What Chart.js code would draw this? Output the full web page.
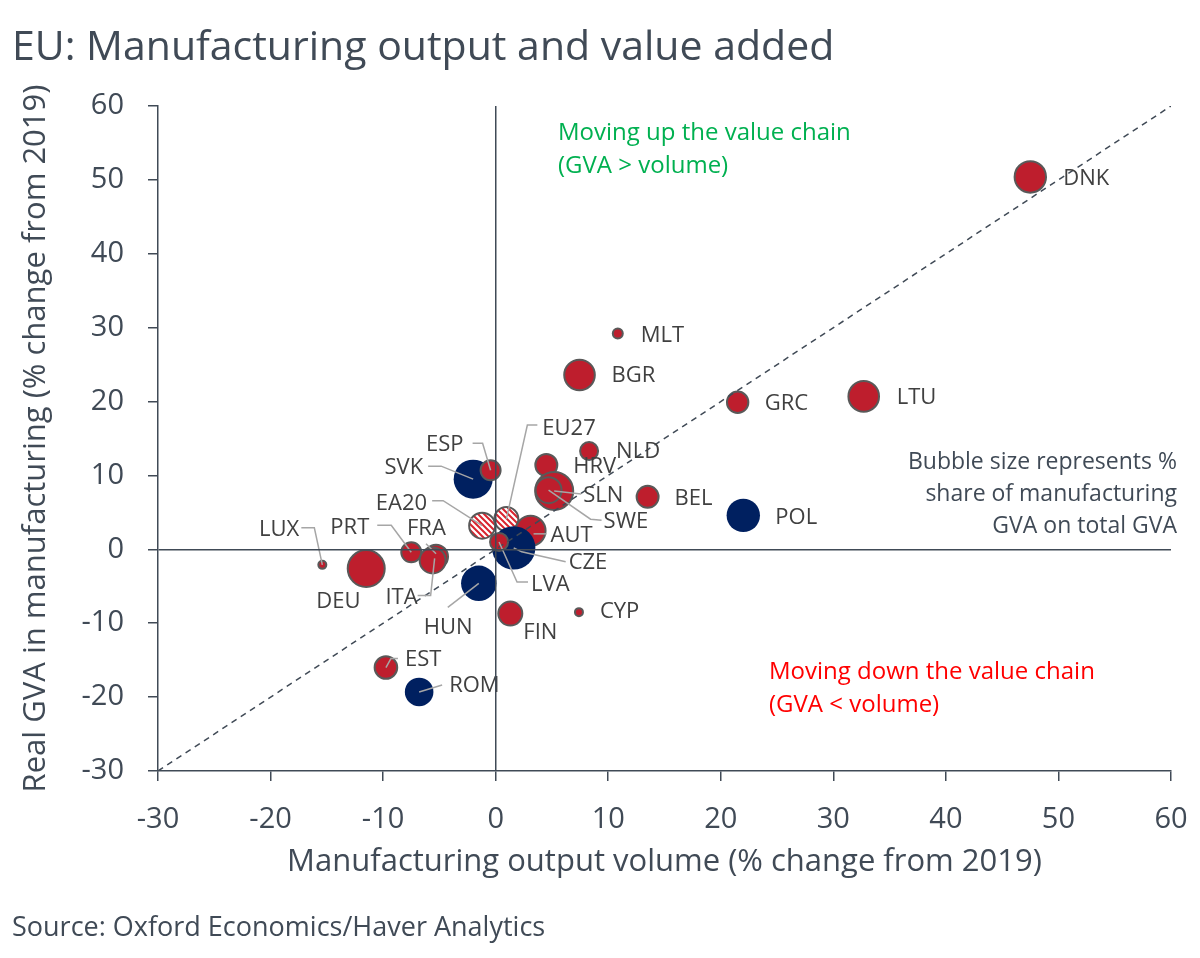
<!DOCTYPE html>
<html>
<head>
<meta charset="utf-8">
<title>EU: Manufacturing output and value added</title>
<script src="https://cdn.jsdelivr.net/npm/chart.js@4.4.1/dist/chart.umd.min.js"></script>
<style>
  html, body { margin: 0; padding: 0; background: #fff; }
  #wrap { width: 1200px; height: 958px; }
</style>
</head>
<body>
<div id="wrap"><canvas id="chart"></canvas></div>
<script>
// data
const countries = ['DNK','MLT','BGR','GRC','LTU','NLD','HRV','SLN','SWE','BEL','POL','SVK','ESP','EA20','EU27','AUT','CZE','LVA','PRT','FRA','ITA','LUX','DEU','HUN','FIN','CYP','EST','ROM'];
const outputVolume = [47.5, 10.85, 7.45, 21.5, 32.7, 8.3, 4.5, 5.2, 4.7, 13.5, 22.0, -2.0, -0.45, -1.2, 0.95, 3.1, 1.6, 0.3, -7.5, -5.3, -5.6, -15.4, -11.5, -1.5, 1.3, 7.4, -9.75, -6.8];
const realGva = [50.4, 29.2, 23.6, 19.9, 20.7, 13.3, 11.4, 7.9, 8.0, 7.1, 4.6, 9.5, 10.7, 3.2, 4.1, 2.5, 0.2, 1.0, -0.4, -1.0, -1.5, -2.1, -2.6, -4.6, -8.7, -8.5, -16.0, -19.3];
const gvaShare = [16.7, 6, 16.3, 11.7, 16.3, 10, 12, 20, 14, 12, 16.7, 19.5, 11, 14, 13, 16, 21.7, 10, 11, 13, 14, 5, 19.5, 17.7, 13, 5, 12.3, 14.3];
const navyGroup = ['POL', 'SVK', 'CZE', 'HUN', 'ROM'];
const aggregates = ['EA20', 'EU27'];
const parityLine = [-30, 60];
const axisTicks = [-30, -20, -10, 0, 10, 20, 30, 40, 50, 60];

const RED = '#BE1E2D';
const NAVY = '#002060';
const OUTLINE = '#595959';
const AXIS = '#404A56';
const TEXT = '#404040';

// label placement relative to bubble centre (px), with optional leader lines
const labelLayout = {
  DNK: { dx: 33, dy: 2 },
  MLT: { dx: 23, dy: 2 },
  BGR: { dx: 32, dy: 1 },
  GRC: { dx: 27, dy: 1 },
  LTU: { dx: 33, dy: 1 },
  NLD: { dx: 27, dy: 1 },
  HRV: { dx: 27, dy: 2 },
  SLN: { dx: 29, dy: 5, leader: [[0, 0], [27, 3]] },
  SWE: { dx: 55, dy: 32, leader: [[0, 0], [42, 29], [53, 30]] },
  BEL: { dx: 27, dy: 2 },
  POL: { dx: 32, dy: 2 },
  AUT: { dx: 20, dy: 5, leader: [[3, 3], [16, 3]] },
  CZE: { dx: 55, dy: 15, leader: [[0, 0], [8, 4], [52, 14]] },
  LVA: { dx: 32, dy: 43, leader: [[0, 0], [18, 40], [29, 40]] },
  EU27: { dx: 36, dy: -90, leader: [[0, 0], [21, -94], [31, -94]] },
  EA20: { dx: -55, dy: -22, align: 'right', leader: [[0, 0], [-39, -25], [-50, -25]] },
  SVK: { dx: -50, dy: -11, align: 'right', leader: [[0, 0], [-32, -13], [-45, -13]] },
  ESP: { dx: -27, dy: -26, align: 'right', leader: [[0, 0], [-8, -27], [-18, -27]] },
  PRT: { dx: -42, dy: -25, align: 'right', leader: [[0, 0], [-20, -27], [-34, -27]] },
  FRA: { dx: -29, dy: -28, leader: [[0, -3], [-10, -13]] },
  ITA: { dx: -15, dy: 37, align: 'right', leader: [[2, -2], [-2, 35], [-15, 35]] },
  LUX: { dx: -23, dy: -35, align: 'right', leader: [[0, 0], [-8, -37], [-21, -37]] },
  DEU: { dx: -50, dy: 33 },
  HUN: { dx: -55, dy: 44, leader: [[0, 0], [-31, 24]] },
  FIN: { dx: 13, dy: 19 },
  CYP: { dx: 21, dy: 0 },
  EST: { dx: 19, dy: -8, leader: [[0, 0], [5, -9], [12, -9]] },
  ROM: { dx: 30, dy: -6, leader: [[0, 0], [23, -7]] }
};

function makeHatch() {
  const c = document.createElement('canvas');
  c.width = 6; c.height = 6;
  const g = c.getContext('2d');
  g.fillStyle = '#fff';
  g.fillRect(0, 0, 6, 6);
  g.strokeStyle = '#D9232D';
  g.lineWidth = 2;
  g.beginPath();
  g.moveTo(-1, -1); g.lineTo(7, 7);
  g.moveTo(-1, 5); g.lineTo(1, 7);
  g.moveTo(5, -1); g.lineTo(7, 1);
  g.stroke();
  return g.createPattern(c, 'repeat');
}

const hatch = makeHatch();
const fills = countries.map(c => navyGroup.includes(c) ? NAVY : aggregates.includes(c) ? hatch : RED);
const borders = countries.map(c => navyGroup.includes(c) ? 0 : 2);
const bubbles = countries.map((c, i) => ({
  x: outputVolume[i],
  y: realGva[i],
  r: gvaShare[i] - (borders[i] ? 1 : 0)
}));

const textPlugin = {
  id: 'chartTexts',
  beforeDraw(chart) {
    const ctx = chart.ctx;
    ctx.save();
    ctx.fillStyle = '#fff';
    ctx.fillRect(0, 0, chart.width, chart.height);
    ctx.restore();
  },
  afterDatasetsDraw(chart) {
    const ctx = chart.ctx;
    const meta = chart.getDatasetMeta(1);
    ctx.save();
    ctx.strokeStyle = '#A6A6A6';
    ctx.lineWidth = 1.5;
    ctx.font = "22px 'Open Sans'";
    ctx.fillStyle = TEXT;
    ctx.textBaseline = 'middle';
    meta.data.forEach((pt, i) => {
      const lay = labelLayout[countries[i]];
      if (!lay) return;
      if (lay.leader) {
        ctx.beginPath();
        lay.leader.forEach(([lx, ly], k) => {
          if (k === 0) ctx.moveTo(pt.x + lx, pt.y + ly);
          else ctx.lineTo(pt.x + lx, pt.y + ly);
        });
        ctx.stroke();
      }
      ctx.textAlign = lay.align || 'left';
      ctx.fillText(countries[i], pt.x + lay.dx, pt.y + lay.dy);
    });
    ctx.restore();
  },
  afterDraw(chart) {
    const ctx = chart.ctx;
    ctx.save();
    ctx.textBaseline = 'middle';
    ctx.textAlign = 'left';
    ctx.fillStyle = AXIS;
    ctx.font = "41px 'Open Sans'";
    ctx.fillText('EU: Manufacturing output and value added', 12, 48);
    ctx.font = "27px 'Open Sans'";
    ctx.fillText('Source: Oxford Economics/Haver Analytics', 12, 928);

    ctx.font = "24px 'Open Sans'";
    ctx.fillStyle = '#00B050';
    ctx.fillText('Moving up the value chain', 558, 133);
    ctx.fillText('(GVA > volume)', 558, 166);
    ctx.fillStyle = '#FF0000';
    ctx.fillText('Moving down the value chain', 769, 672);
    ctx.fillText('(GVA < volume)', 769, 705);

    ctx.font = "23px 'Open Sans'";
    ctx.fillStyle = AXIS;
    ctx.textAlign = 'right';
    ctx.fillText('Bubble size represents %', 1177, 462);
    ctx.fillText('share of manufacturing', 1177, 494);
    ctx.fillText('GVA on total GVA', 1177, 526);
    ctx.restore();
  }
};

function axisOptions(titleText, isX) {
  return {
    type: 'linear',
    min: axisTicks[0],
    max: axisTicks[axisTicks.length - 1],
    afterBuildTicks(scale) {
      scale.ticks = axisTicks.map(v => ({ value: v }));
    },
    afterFit(scale) {
      if (isX) {
        scale.height = 110;
        scale.paddingLeft = 0;
        scale.paddingRight = 0;
      } else {
        scale.width = 158;
        scale.paddingTop = 0;
        scale.paddingBottom = 0;
      }
    },
    border: { display: true, color: AXIS, width: 1.5, z: 2 },
    grid: {
      z: 1,
      drawOnChartArea: true,
      drawTicks: true,
      tickLength: 10,
      tickColor: AXIS,
      tickWidth: 1.5,
      lineWidth: 1.5,
      color: ctx => (ctx.tick && ctx.tick.value === 0 ? AXIS : 'rgba(0,0,0,0)')
    },
    ticks: {
      color: AXIS,
      font: { size: 29 },
      padding: isX ? 21 : 24,
      maxRotation: 0
    },
    title: {
      display: true,
      text: titleText,
      color: AXIS,
      font: { size: 31 },
      padding: isX ? { top: 0, bottom: 0 } : { top: 18, bottom: 0 }
    }
  };
}

Chart.defaults.font.family = "'Open Sans', 'Noto Sans', sans-serif";

new Chart(document.getElementById('chart'), {
  type: 'bubble',
  data: {
    datasets: [
      {
        type: 'line',
        label: 'Parity',
        data: parityLine.map(v => ({ x: v, y: v })),
        borderColor: AXIS,
        borderWidth: 1.5,
        borderDash: [6, 5],
        pointRadius: 0,
        fill: false,
        order: 0
      },
      {
        label: 'Countries',
        data: bubbles,
        backgroundColor: fills,
        borderColor: OUTLINE,
        borderWidth: borders,
        hoverBorderWidth: borders,
        order: 1
      }
    ]
  },
  options: {
    responsive: true,
    maintainAspectRatio: false,
    animation: false,
    layout: { padding: { top: 106, right: 29, bottom: 77, left: 0 } },
    plugins: {
      legend: { display: false },
      tooltip: { enabled: false }
    },
    scales: {
      x: axisOptions('Manufacturing output volume (% change from 2019)', true),
      y: axisOptions('Real GVA in manufacturing (% change from 2019)', false)
    }
  },
  plugins: [textPlugin]
});
</script>
</body>
</html>
